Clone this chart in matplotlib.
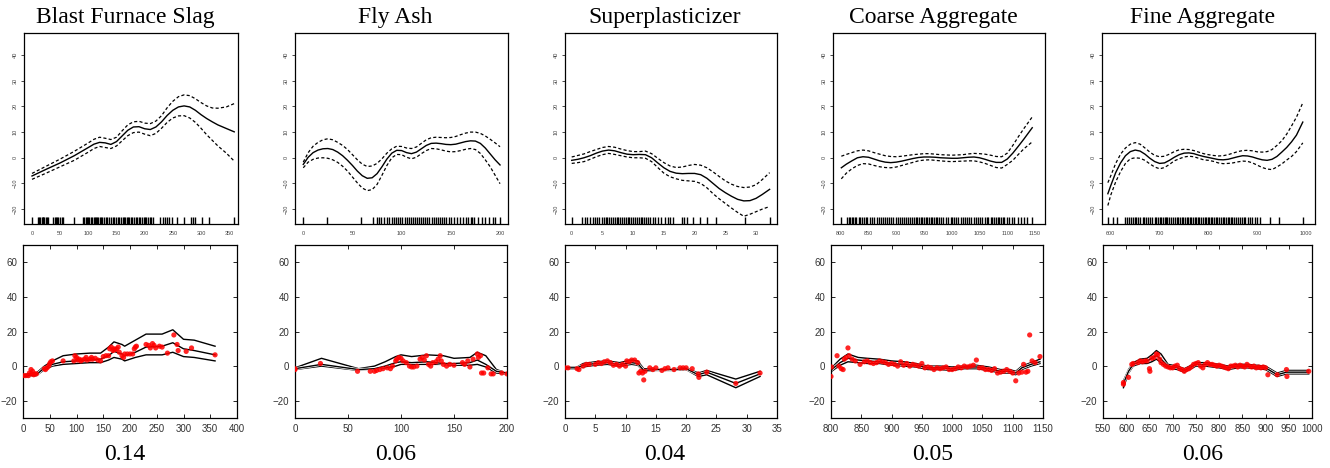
import matplotlib
matplotlib.use("Agg")
import matplotlib.pyplot as plt
import matplotlib.patheffects as pe

# ---- titles and the numbers under each column
titles = ["Blast Furnace Slag", "Fly Ash", "Superplasticizer", "Coarse Aggregate", "Fine Aggregate"]
scores = ["0.14", "0.06", "0.04", "0.05", "0.06"]

# ---- top row: smooth effect with dashed band, plus rug
slag_x = [0, 25, 50, 75, 100, 110, 120, 130, 140, 150, 160, 170, 180, 190, 200, 210, 220, 230, 240, 250,
          260, 270, 280, 290, 300, 310, 320, 330, 345, 359]
slag_fit = [-7.1, -4.5, -2.0, 0.8, 4.0, 5.3, 6.0, 5.8, 5.2, 6.3, 8.5, 10.7, 12.0, 12.1, 11.3, 11.0, 12.0,
            14.0, 16.5, 18.5, 19.8, 20.2, 19.8, 18.5, 16.8, 15.3, 14.0, 12.8, 11.4, 10.1]
slag_hi = [-6.1, -3.3, -0.5, 2.5, 5.8, 7.2, 8.0, 7.6, 7.1, 8.0, 10.5, 12.8, 14.0, 14.2, 13.5, 13.3, 14.3,
           16.4, 19.5, 22.0, 23.8, 24.5, 24.2, 23.0, 21.5, 20.2, 19.4, 19.3, 19.8, 21.1]
slag_lo = [-8.4, -6.0, -3.5, -1.0, 2.2, 3.6, 4.4, 4.0, 3.6, 4.6, 6.6, 8.6, 9.8, 10.0, 9.2, 8.6, 9.5, 11.5,
           13.8, 15.5, 16.3, 16.4, 15.5, 13.8, 11.5, 9.0, 6.8, 4.6, 1.8, -1.3]
slag_rug = [0, 11, 13, 15, 17, 19, 20, 22, 24, 26, 28, 38, 40, 42, 45, 47, 50, 53, 55, 74, 90, 92, 95, 97,
            100, 102, 105, 107, 110, 112, 114, 116, 118, 120, 122, 125, 128, 131, 134, 137, 140, 143, 146,
            149, 152, 155, 158, 161, 163, 165, 168, 170, 173, 176, 178, 181, 184, 187, 190, 192, 195, 198,
            200, 203, 206, 209, 212, 214, 228, 232, 236, 240, 243, 249, 258, 270, 282, 286, 290, 302, 314, 359]

fly_x = [0, 5, 10, 15, 20, 25, 30, 35, 40, 45, 50, 55, 60, 65, 70, 75, 80, 85, 90, 95, 100, 105, 110, 115,
         120, 125, 130, 135, 140, 145, 150, 155, 160, 165, 170, 175, 180, 185, 190, 195, 200]
fly_fit = [-2.6, 0.2, 2.0, 3.0, 3.5, 3.6, 3.2, 2.2, 0.8, -1.0, -3.0, -5.2, -7.0, -8.0, -7.8, -6.2, -3.5,
           -0.5, 1.8, 2.9, 2.8, 2.0, 1.6, 2.2, 3.5, 4.8, 5.6, 5.7, 5.5, 5.2, 5.1, 5.3, 5.8, 6.3, 6.6, 6.5,
           5.6, 3.8, 1.5, -0.8, -2.8]
fly_hi = [-1.7, 2.0, 4.5, 6.0, 7.0, 7.4, 7.0, 6.0, 4.8, 3.2, 1.2, -0.8, -2.5, -3.4, -3.2, -2.2, -0.4, 1.8,
          3.5, 4.5, 4.4, 3.8, 3.6, 4.2, 5.6, 7.0, 7.8, 8.0, 7.9, 7.8, 7.9, 8.3, 9.0, 9.6, 10.0, 10.0, 9.5,
          8.5, 7.2, 5.8, 4.3]
fly_lo = [-3.9, -1.7, -0.6, -0.1, 0.0, -0.2, -0.8, -1.8, -3.3, -5.2, -7.5, -9.8, -11.8, -12.8, -12.4,
          -10.4, -6.8, -3.0, 0.0, 1.3, 1.2, 0.2, -0.4, 0.2, 1.6, 2.8, 3.6, 3.5, 3.1, 2.6, 2.3, 2.4, 2.8,
          3.3, 3.6, 3.2, 1.7, -0.8, -3.5, -6.8, -10.1]
fly_rug = [0, 24, 59, 71, 75, 77, 79, 82, 85, 87, 90, 92, 94, 96, 98, 100, 103, 105, 107, 110, 112, 114,
           116, 118, 120, 122, 124, 126, 128, 131, 133, 135, 137, 139, 141, 143, 145, 148, 150, 153, 156,
           159, 162, 165, 167, 170, 172, 174, 178, 182, 185, 189, 193, 195, 200]

sp_x = [0, 1, 2, 3, 4, 5, 6, 7, 8, 9, 10, 11, 12, 13, 14, 15, 16, 17, 18, 19, 20, 21, 22, 23, 24, 25, 26,
        27, 28, 29, 30, 31, 32.2]
sp_fit = [-1.0, -0.6, 0.0, 0.8, 1.8, 2.6, 3.0, 2.7, 2.0, 1.4, 1.2, 1.3, 1.2, 0.0, -2.0, -3.9, -5.3, -6.0,
          -6.2, -6.1, -6.1, -6.6, -8.0, -10.0, -12.0, -13.6, -15.0, -16.2, -16.8, -16.7, -15.8, -14.3, -12.3]
sp_hi = [0.3, 0.9, 1.5, 2.4, 3.2, 4.0, 4.4, 4.1, 3.4, 2.8, 2.4, 2.4, 2.6, 1.6, -0.2, -1.9, -3.2, -3.8,
         -3.6, -3.0, -2.6, -2.9, -3.9, -5.5, -7.3, -9.0, -10.3, -11.2, -11.6, -11.4, -10.5, -8.5, -5.8]
sp_lo = [-2.2, -1.9, -1.5, -0.6, 0.4, 1.2, 1.7, 1.3, 0.8, 0.3, 0.0, 0.0, -0.2, -1.5, -3.8, -6.0, -7.4,
         -8.2, -8.8, -9.0, -9.2, -10.0, -11.7, -14.0, -16.0, -17.8, -19.6, -21.3, -22.8, -22.0, -21.0,
         -20.0, -19.0]
sp_rug = [0, 1.7, 2.2, 2.5, 3, 3.4, 3.8, 4.1, 4.5, 4.9, 5.2, 5.5, 5.8, 6.1, 6.4, 6.7, 7, 7.3, 7.6, 7.9,
          8.2, 8.5, 8.8, 9.1, 9.4, 9.7, 10, 10.3, 10.6, 10.9, 11.2, 11.5, 11.8, 12.1, 12.4, 12.8, 13.2,
          13.6, 14.1, 14.6, 15.2, 15.6, 16, 16.5, 17.9, 18.3, 18.7, 19.8, 20.9, 22, 23.4, 28.2, 32.2]

ca_x = [801, 810, 820, 830, 840, 850, 860, 870, 880, 890, 900, 910, 920, 930, 940, 950, 960, 970, 980,
        990, 1000, 1010, 1020, 1030, 1040, 1050, 1060, 1070, 1080, 1090, 1100, 1110, 1120, 1130, 1145]
ca_fit = [-3.9, -2.5, -1.2, 0.0, 0.4, 0.2, -0.5, -1.2, -1.7, -1.9, -1.7, -1.3, -0.8, -0.3, 0.1, 0.3, 0.3,
          0.2, 0.0, -0.1, -0.2, -0.2, 0.0, 0.2, 0.3, 0.0, -0.6, -1.3, -1.8, -1.8, -0.5, 1.8, 4.5, 7.3, 11.7]
ca_hi = [0.6, 1.3, 2.0, 2.7, 3.0, 2.7, 2.0, 1.4, 0.8, 0.5, 0.4, 0.6, 0.9, 1.2, 1.4, 1.6, 1.6, 1.4, 1.2,
         1.1, 1.0, 1.1, 1.2, 1.5, 1.7, 1.6, 1.4, 1.0, 0.5, 0.4, 1.8, 4.8, 8.2, 11.4, 15.9]
ca_lo = [-8.2, -6.0, -4.3, -3.0, -2.3, -2.4, -3.0, -3.5, -3.8, -3.9, -3.6, -3.0, -2.4, -1.8, -1.2, -0.9,
         -0.8, -1.0, -1.2, -1.4, -1.5, -1.4, -1.3, -1.2, -1.2, -1.6, -2.2, -3.0, -3.8, -4.0, -2.6, -1.0,
         1.3, 3.5, 6.2]
ca_rug = [801, 811, 814, 817, 820, 822, 825, 828, 832, 835, 838, 841, 845, 848, 852, 856, 860, 865, 868,
          872, 876, 880, 883, 887, 891, 895, 900, 903, 907, 910, 914, 918, 922, 925, 928, 932, 935, 938,
          941, 944, 947, 950, 953, 956, 959, 962, 965, 968, 971, 974, 977, 980, 985, 990, 994, 998, 1001,
          1004, 1007, 1012, 1016, 1020, 1023, 1027, 1031, 1035, 1040, 1043, 1047, 1050, 1055, 1059, 1063,
          1066, 1070, 1073, 1076, 1080, 1083, 1086, 1089, 1092, 1095, 1100, 1104, 1108, 1113, 1120, 1125,
          1130, 1135, 1145]

fa_x = [594, 600, 610, 620, 630, 640, 650, 660, 670, 680, 690, 700, 710, 720, 730, 740, 750, 760, 770, 780,
        790, 800, 810, 820, 830, 840, 850, 860, 870, 880, 890, 900, 910, 920, 930, 940, 950, 960, 970, 980,
        993]
fa_fit = [-14.0, -10.8, -5.8, -2.0, 0.8, 2.4, 3.0, 2.6, 1.4, -0.2, -1.5, -2.2, -2.0, -1.0, 0.2, 1.2, 1.8,
          1.9, 1.6, 1.0, 0.5, 0.1, -0.3, -0.7, -0.8, -0.6, -0.1, 0.4, 0.8, 0.7, 0.3, -0.3, -0.8, -1.0, -0.6,
          0.5, 2.2, 4.0, 6.2, 8.8, 13.9]
fa_hi = [-9.7, -7.0, -2.2, 1.4, 3.8, 5.3, 5.9, 5.3, 3.8, 2.2, 0.9, 0.4, 0.6, 1.4, 2.4, 3.1, 3.3, 3.2, 2.8,
         2.2, 1.6, 1.2, 0.9, 0.7, 0.8, 1.2, 1.8, 2.4, 2.8, 2.9, 2.7, 2.3, 2.2, 2.4, 3.2, 4.8, 6.6, 9.2, 12.4,
         15.8, 21.4]
fa_lo = [-18.6, -14.5, -9.4, -5.4, -2.2, -0.4, 0.0, -0.2, -1.0, -2.4, -3.6, -4.3, -3.8, -2.6, -1.2, -0.4,
         0.3, 0.6, 0.4, -0.2, -0.8, -1.0, -1.4, -2.0, -2.3, -2.2, -2.0, -1.6, -1.3, -1.4, -2.0, -2.9, -3.8,
         -4.4, -4.6, -3.6, -2.4, -0.9, 0.5, 2.4, 5.8]
fa_rug = [594, 605, 613, 630, 634, 637, 641, 645, 649, 652, 655, 660, 665, 668, 672, 676, 680, 685, 690,
          693, 697, 700, 703, 706, 710, 713, 716, 720, 724, 728, 731, 735, 738, 742, 745, 748, 752, 755,
          758, 762, 765, 768, 772, 775, 778, 781, 785, 788, 792, 795, 798, 802, 805, 808, 811, 815, 818,
          822, 825, 829, 832, 835, 839, 842, 846, 849, 852, 856, 860, 864, 868, 872, 875, 880, 885, 890,
          895, 900, 905, 925, 945, 993]

# ---- bottom row: observed points and three lines
slag_lx = [0, 25, 40, 55, 75, 100, 125, 145, 160, 170, 185, 190, 210, 230, 260, 280, 300, 320, 359]
slag_mid = [-6, -5, -1, 1, 2.5, 3, 3.5, 4, 6, 8.5, 7, 6, 8, 11, 11.5, 13.5, 10, 9, 6.5]
slag_up = [-5, -4, 0, 3, 6, 7, 7.5, 7.5, 11, 14, 12.5, 11.5, 15, 18.5, 18.5, 21, 15.5, 15, 11.5]
slag_dn = [-6.5, -5.5, -2, 0, 1, 1.5, 2, 2, 3.5, 5, 4, 3, 5, 6.5, 6.5, 8, 5.5, 5, 3]
slag_px = [0, 5, 10, 12, 15, 16, 18, 20, 22, 25, 40, 42, 45, 48, 50, 52, 55, 75, 95, 97, 100, 102, 105,
           108, 110, 115, 118, 120, 125, 128, 130, 135, 140, 145, 150, 155, 160, 162, 165, 168, 170, 172,
           175, 178, 180, 185, 188, 190, 195, 200, 205, 208, 210, 212, 230, 235, 238, 242, 245, 248, 255,
           260, 270, 282, 288, 290, 305, 315, 359]
slag_py = [-5.5, -5.5, -5.5, -4, -2, -4.5, -3, -5, -4.5, -4.5, -1.5, -2, -1, 0, 1.5, 2.5, 3, 3, 3, 6, 5,
           3.5, 4, 3, 3.5, 4, 5, 3.5, 4, 5, 4, 4.5, 3.5, 3, 5.5, 6, 6, 10, 11, 9, 10, 9.5, 10, 11, 8, 6,
           5, 7, 7, 7, 7, 10, 11, 11.5, 12.5, 12, 10.5, 13, 12, 10.5, 11.5, 11, 7.5, 18, 12.5, 9, 8.5,
           10.5, 6.5]

fly_lx = [0, 25, 60, 75, 85, 95, 100, 110, 125, 140, 150, 165, 172, 180, 190, 200]
fly_mid = [-1.5, 1, -2, -1.5, 0, 2, 2.5, 2, 2.5, 1.5, 1.5, 2, 3.5, 1, -3, -4]
fly_up = [-1, 4.5, -1.5, 0, 2.5, 5.5, 6.5, 5.5, 6.5, 6, 4.5, 5, 8, 6, -2, -4]
fly_dn = [-2, 0, -2.5, -1.5, -1, 0, 1, 1, 1, 1, 0.5, 0.5, 1, -0.5, -4, -4.5]
fly_px = [0, 0, 24, 59, 71, 75, 77, 80, 83, 87, 90, 92, 95, 96, 98, 100, 102, 105, 108, 110, 112, 115,
          118, 120, 122, 124, 126, 128, 130, 133, 135, 137, 138, 140, 143, 146, 150, 158, 160, 163, 165,
          168, 172, 173, 175, 176, 178, 182, 185, 187, 195, 200]
fly_py = [-2, -1.5, 1.5, -3, -3, -3, -2.5, -2, -1.5, -1, -1.5, 0, 3, 4, 5, 4.5, 3, 2, 0, -0.5, -0.5, 0,
          4, 5, 3.5, 6, 1, 0, 2, 2.5, 4, 6, 3, 1, 0, 1, 0.5, 2, 1, 3, -0.5, 4, 7, 5, 6, -4, -4, -1,
          -4.5, -4.5, -4, -4.5]

sp_lx = [0, 2, 3, 5, 7, 9, 11, 12, 13, 15, 18, 20, 22, 23.4, 28.2, 32.2]
sp_mid = [-1, -1, 0.5, 1.5, 2, 1, 2, 1.5, -2.5, -2, -2, -1.5, -5, -3.5, -10, -4.5]
sp_up = [-0.5, -0.5, 1.5, 2.5, 3, 2, 3.5, 3, -1.5, -1.5, -1.5, -1, -4, -2.5, -7.5, -3]
sp_dn = [-1.5, -1.5, -0.5, 0.5, 1, 0, 1, 0.5, -3, -2.5, -2.5, -2, -6, -5, -12.5, -6]
sp_px = [0, 0.5, 2, 2.3, 3, 3.5, 4, 5, 5.5, 6, 6.5, 7, 7.5, 8, 8.5, 9, 9.5, 10, 10.2, 10.6, 11, 11.5, 12,
         12.2, 12.5, 12.8, 13, 13.2, 14, 14.5, 15, 16, 16.5, 17, 18, 19, 19.5, 20, 21, 22, 22.1, 23.4,
         28.2, 32.2]
sp_py = [-1, -1, -1.5, -2, 0, 1, 1, 1, 2, 1.5, 2.5, 3, 2, 0.5, 1, 0, 1, 0, 3, 2.5, 3.5, 3.5, 2, -4, -3,
         -4, -8, -3, -1, -2, -1, -2.5, -1.5, -1, -2, -1, -1, -1, -1.5, -4.5, -6.5, -3.5, -10, -4]

ca_lx = [801, 815, 828, 845, 860, 880, 900, 920, 940, 960, 980, 1000, 1020, 1040, 1060, 1080, 1095,
         1105, 1115, 1130, 1145]
ca_mid = [-2, 2, 4.5, 3.5, 3, 2.5, 1.5, 1, 0.5, -1, -1, -1.5, -0.5, -0.5, -1.5, -3, -3, -4, -1, 1, 2.5]
ca_up = [-1, 4, 7, 5, 4.5, 4, 3, 2.5, 1.5, 0, 0, -0.5, 0, 0.5, -0.5, -2, -2, -3, 0, 2, 4]
ca_dn = [-3, 0.5, 2.5, 2, 1.5, 1.5, 0.5, 0, -0.5, -2, -2, -2.5, -1.5, -1.5, -2.5, -4, -4, -5, -2, 0, 1.5]
ca_px = [800, 801, 810, 813, 817, 820, 822, 825, 828, 830, 835, 840, 848, 855, 860, 865, 870, 875, 880,
         885, 890, 895, 900, 905, 910, 915, 920, 925, 930, 935, 940, 945, 950, 955, 960, 965, 970, 975,
         980, 985, 990, 995, 1000, 1005, 1010, 1015, 1020, 1025, 1030, 1035, 1040, 1045, 1050, 1055,
         1060, 1065, 1070, 1075, 1080, 1085, 1090, 1095, 1100, 1105, 1110, 1115, 1118, 1122, 1125, 1128,
         1132, 1137, 1145]
ca_py = [-6, -0.5, 6, 0, -1.5, -2, 4, 5, 10.5, 6, 4, 3, 1, 2.5, 3, 2, 1.5, 2, 3, 2.5, 2, 1, 1.5, 1, 0,
         2.5, 0.5, 1.5, 0, 1, 0.5, 0, 1.5, -1, -0.5, -1, -2, -1, -1.5, -1, -0.5, -2, -2, -1.5, -0.5, -1,
         0, -0.5, 0, 0.5, 3.5, -1, -1, -2, -2, -2.5, -1.5, -4, -3.5, -3, -2, -3, -4, -8.5, -4, -3.5, 1,
         -3.5, -3, 18, 3, 2, 5.5]

fa_lx = [594, 605, 615, 630, 645, 655, 665, 675, 690, 710, 725, 740, 750, 770, 800, 820, 840, 860, 880,
         900, 925, 945, 993]
fa_mid = [-10, -3, 1, 2.5, 3, 4.5, 6, 4, 0, -1, -2.5, -0.5, 1, 1, 0, -1, 0, 0, -0.5, -1, -5, -3.5, -3.5]
fa_up = [-8.5, -2, 2, 4, 4.5, 6.5, 9, 7, 1, 0, -1.5, 0.5, 2, 2, 1, 0, 1, 1, 0.5, 0, -4, -2.5, -2.5]
fa_dn = [-12.5, -4, 0, 1.5, 1.5, 2.5, 4, 2, -1, -2, -3.5, -1.5, 0, 0, -1, -2, -1, -1, -1.5, -2, -6, -4.5, -4.5]
fa_px = [594, 594, 605, 612, 615, 625, 630, 635, 640, 645, 650, 651, 655, 660, 665, 668, 672, 675, 680,
         685, 690, 695, 700, 705, 710, 715, 720, 725, 730, 735, 740, 745, 750, 755, 760, 765, 770, 775,
         780, 785, 790, 795, 800, 805, 810, 815, 820, 825, 830, 835, 840, 845, 850, 855, 860, 865, 870,
         875, 880, 885, 890, 895, 900, 905, 925, 945, 946, 993]
fa_py = [-9.5, -10.5, -6.5, 1, 1.5, 2, 3, 2.5, 3, 3, -1.5, -3, 4.5, 5, 7, 6.5, 4, 2, 1, 0, -0.5, -1, -1,
         0, 0.5, -1.5, -2, -3, -2, -1.5, -0.5, 1, 1.5, 2, 0, -1, 1, 2, 1, 1, 0.5, 0, 0.5, 0, -0.5, -1,
         -1.5, 0, 0, 0.5, -0.5, 0.5, 0, -0.5, 1, 0, -0.5, 0, -1, -0.5, -1, -0.5, -1, -5, -5, -2, -6, -3]

# ---- per-column axis settings
top_xlim = [(-14.2, 365.7), (-8.4, 208.1), (-1.09, 33.4), (786, 1168), (582, 1018)]
top_xticks = [range(0, 351, 50), range(0, 201, 50), range(0, 31, 5), range(800, 1151, 50), range(600, 1001, 100)]
bot_xlim = [(0, 400), (0, 200), (0, 35), (800, 1150), (550, 1000)]
bot_xticks = [range(0, 401, 50), range(0, 201, 50), range(0, 36, 5), range(800, 1151, 50), range(550, 1001, 50)]

top_left = [24, 295, 565, 833, 1102]
top_right = [238, 508, 777, 1045, 1315]
bot_left = [23, 295, 565, 831, 1103]
bot_right = [237, 507, 777, 1043, 1312]

smooth = [(slag_x, slag_fit, slag_hi, slag_lo, slag_rug),
          (fly_x, fly_fit, fly_hi, fly_lo, fly_rug),
          (sp_x, sp_fit, sp_hi, sp_lo, sp_rug),
          (ca_x, ca_fit, ca_hi, ca_lo, ca_rug),
          (fa_x, fa_fit, fa_hi, fa_lo, fa_rug)]
observed = [(slag_lx, slag_mid, slag_up, slag_dn, slag_px, slag_py),
            (fly_lx, fly_mid, fly_up, fly_dn, fly_px, fly_py),
            (sp_lx, sp_mid, sp_up, sp_dn, sp_px, sp_py),
            (ca_lx, ca_mid, ca_up, ca_dn, ca_px, ca_py),
            (fa_lx, fa_mid, fa_up, fa_dn, fa_px, fa_py)]

W, H = 1330, 468
fig = plt.figure(figsize=(W / 100, H / 100), dpi=100)
serif = "Liberation Serif"
sans = "Liberation Sans"
outline = [pe.withStroke(linewidth=2.0, foreground="white")]

for i in range(5):
    # top panel
    ax = fig.add_axes([top_left[i] / W, 1 - 224 / H, (top_right[i] - top_left[i]) / W, 191 / H])
    x, fit, hi, lo, rug = smooth[i]
    ax.plot(x, fit, color="black", lw=1.0)
    ax.plot(x, hi, color="black", lw=0.9, ls=(0, (2.5, 1.8)))
    ax.plot(x, lo, color="black", lw=0.9, ls=(0, (2.5, 1.8)))
    ax.vlines(rug, 0, 0.035, transform=ax.get_xaxis_transform(), color="black", lw=1.0)
    ax.set_xlim(top_xlim[i])
    ax.set_ylim(-25.8, 48.6)
    ax.set_xticks(list(top_xticks[i]))
    ax.set_yticks(range(-20, 41, 10))
    ax.tick_params(axis="y", direction="out", length=2.5, width=0.5, pad=2, labelsize=4,
                   labelcolor="#444444", labelrotation=90)
    ax.tick_params(axis="x", length=0, pad=5, labelsize=4, labelcolor="#444444")
    for lab in ax.get_yticklabels():
        lab.set_verticalalignment("center")
        lab.set_fontfamily(sans)
    for lab in ax.get_xticklabels():
        lab.set_fontfamily(sans)
    for sp in ax.spines.values():
        sp.set_linewidth(0.9)

    # bottom panel
    bx = fig.add_axes([bot_left[i] / W, 1 - 418 / H, (bot_right[i] - bot_left[i]) / W, 173 / H])
    lx, mid, up, dn, px, py = observed[i]
    for ys in (up, dn, mid):
        bx.plot(lx, ys, color="black", lw=1.0, zorder=2, path_effects=outline)
    bx.scatter(px, py, s=14, color="red", alpha=0.85, edgecolors="none", zorder=3)
    bx.set_xlim(bot_xlim[i])
    bx.set_ylim(-30, 70)
    bx.set_xticks(list(bot_xticks[i]))
    bx.set_yticks(range(-20, 61, 20))
    bx.tick_params(direction="in", top=True, right=True, length=3, width=0.6, pad=4,
                   labelsize=7, labelcolor="#333333")
    for lab in bx.get_xticklabels() + bx.get_yticklabels():
        lab.set_fontfamily(sans)
    for sp in bx.spines.values():
        sp.set_linewidth(0.9)

    cx = (top_left[i] + top_right[i]) / 2 - 6
    fig.text(cx / W, 1 - 18 / H, titles[i], ha="center", va="center", fontsize=17, family=serif)
    fig.text(cx / W, 1 - 455 / H, scores[i], ha="center", va="center", fontsize=17, family=serif)

fig.savefig("out.png", dpi=100)
